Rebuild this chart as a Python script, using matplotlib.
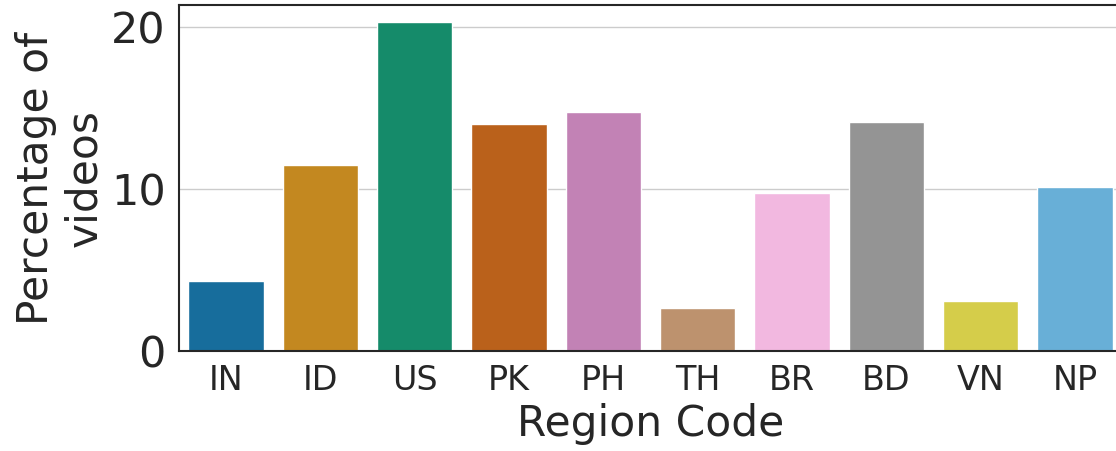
import matplotlib
matplotlib.use("Agg")
import matplotlib.pyplot as plt
import seaborn as sns
import pandas as pd

regions = ["IN", "ID", "US", "PK", "PH", "TH", "BR", "BD", "VN", "NP"]
percentages = [4.3, 11.45, 20.3, 14.0, 14.75, 2.65, 9.75, 14.1, 3.1, 10.1]

sns.set_theme(style="whitegrid")
plt.rcParams['font.family'] = ['DejaVu Sans']

df = pd.DataFrame({"Region Code": regions, "Percentage of videos": percentages})

fig = plt.figure(figsize=(11.16, 4.51), dpi=100)
ax = fig.add_axes([179/1116, 1 - 351/451, 943/1116, (351 - 5)/451])
sns.barplot(data=df, x="Region Code", y="Percentage of videos", hue="Region Code",
            palette="colorblind", saturation=0.75, ax=ax, legend=False)
ax.set_ylim(0, 21.35)
ax.set_yticks([0, 10, 20])
ax.tick_params(axis='y', labelsize=31)
ax.tick_params(axis='x', labelsize=24)
ax.set_xlabel("Region Code", fontsize=30.5)
ax.set_ylabel("Percentage of\nvideos", fontsize=30.5)
for s in ax.spines.values():
    s.set_color("#262626")
    s.set_linewidth(1.5)
ax.xaxis.grid(False)
fig.savefig("out.png", dpi=100)
